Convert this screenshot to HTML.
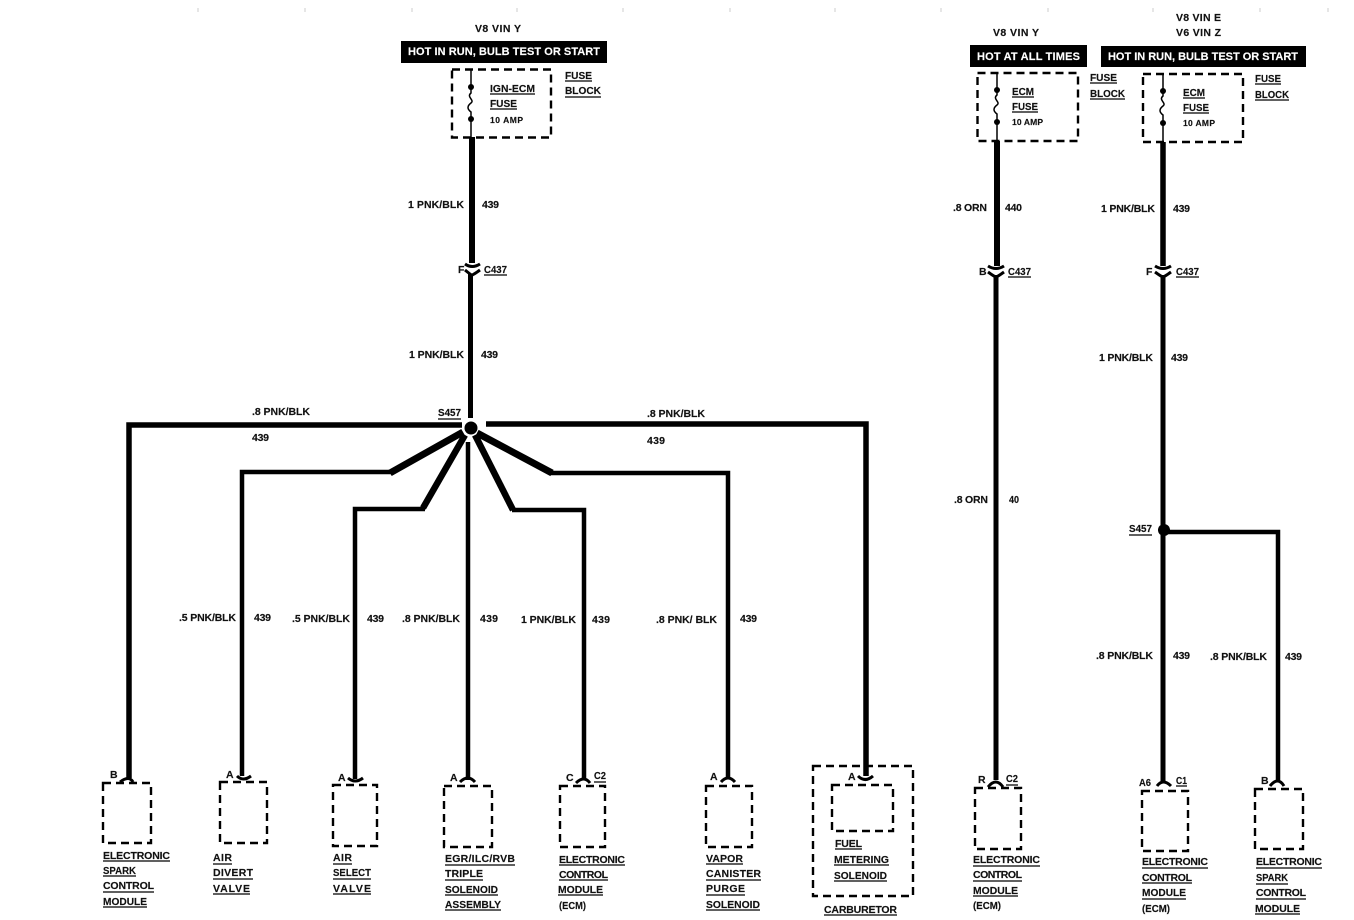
<!DOCTYPE html>
<html><head><meta charset="utf-8">
<style>
html,body{margin:0;padding:0;background:#fff;width:1354px;height:920px;overflow:hidden}
svg{display:block}
text{font-family:"Liberation Sans",sans-serif;font-weight:bold;font-size:10.5px;fill:#111;stroke:#111;stroke-width:.15px}
.w{fill:#fff;stroke:#fff;font-size:11px}
.s{font-size:8.5px}
</style></head><body>
<svg width="1354" height="920" viewBox="0 0 1354 920" xmlns="http://www.w3.org/2000/svg">
<!-- ticks -->
<path d="M198 8v4M305 8v4M412 8v4M517 8v4M623 8v4M730 8v4M835 8v4M941 8v4M1048 8v4M1153 8v4M1260 8v4M1328 8v4" stroke="#ccc" stroke-width="1"/>

<!-- bars -->
<rect x="401" y="41" width="206" height="22" fill="#000"/>
<rect x="970" y="45" width="117" height="22" fill="#000"/>
<rect x="1101" y="46" width="205" height="21" fill="#000"/>

<!-- dashed boxes -->
<g fill="none" stroke="#000" stroke-width="2.4" stroke-dasharray="8 5">
<rect x="452" y="69.500" width="99" height="68"/>
<rect x="977.500" y="73" width="100.500" height="68"/>
<rect x="1143" y="74" width="100" height="68"/>
<rect x="103" y="783" width="48" height="60"/>
<rect x="220" y="782" width="47" height="61"/>
<rect x="333" y="785" width="44" height="61"/>
<rect x="444" y="786" width="48" height="61"/>
<rect x="560" y="786" width="45" height="61"/>
<rect x="706" y="786" width="46" height="61"/>
<rect x="813" y="766" width="100" height="130"/>
<rect x="832" y="785" width="61" height="46"/>
<rect x="975" y="788" width="46" height="61"/>
<rect x="1142" y="791" width="46" height="60"/>
<rect x="1255" y="789" width="48" height="60"/>
</g>

<!-- fuse symbols -->
<g fill="none" stroke="#000" stroke-width="1.500">
<path d="M471 69V93c-5 4 4 7 0 10s-4 6 0 9V137"/>
<path d="M997 73V95c-5 4 4 7 0 10s-4 6 0 9V141"/>
<path d="M1163 74V96c-5 4 4 7 0 10s-4 6 0 9V142"/>
</g>
<g fill="#000">
<circle cx="471" cy="87" r="3"/><circle cx="471" cy="119" r="3"/>
<circle cx="997" cy="90" r="3"/><circle cx="997" cy="122" r="3"/>
<circle cx="1163" cy="91" r="3"/><circle cx="1163" cy="123" r="3"/>
<circle cx="471" cy="428" r="6.500"/>
<circle cx="1164" cy="530" r="6"/>
</g>

<!-- wires -->
<g fill="none" stroke="#000" stroke-linejoin="miter">
<path d="M472 137V263" stroke-width="6"/>
<path d="M470.500 274V418" stroke-width="5"/>
<path d="M997 141V266" stroke-width="6"/>
<path d="M996 275V780" stroke-width="5"/>
<path d="M1163 142V266" stroke-width="5.500"/>
<path d="M1163 275V525M1163 535V782" stroke-width="5"/>
<path d="M1168 532H1278V781" stroke-width="4.500"/>
<path d="M462 425H129V778" stroke-width="5.500"/>
<path d="M486 424H866V776" stroke-width="5.500"/>
<path d="M463 432L390 473" stroke-width="7"/>
<path d="M392 472H242V776" stroke-width="4.500"/>
<path d="M465 435L423 508" stroke-width="6.500"/>
<path d="M425 509H355V779" stroke-width="4.500"/>
<path d="M468 442V780" stroke-width="4.500"/>
<path d="M475 435L513 510" stroke-width="6.500"/>
<path d="M512 510H584V779" stroke-width="4.500"/>
<path d="M477 433L552 473" stroke-width="7"/>
<path d="M550 473H728V779" stroke-width="4.500"/>
</g>

<!-- connectors -->
<g fill="none" stroke="#000" stroke-width="3">
<path d="M465 264q7 5 15 0M465 270q6 5 7 5t8-5"/>
<path d="M988 266q8 5 16 0M988 272q7 5 8 5t8-5"/>
<path d="M1155 266q8 5 16 0M1155 272q7 5 8 5t8-5"/>
<path d="M120 782q9-7 13 0"/>
<path d="M237 776q6 6 14 0"/>
<path d="M348 778q7 6 15 0"/>
<path d="M858 776q7 7 15 0"/>
<path d="M460 782q8-8 15 0"/>
<path d="M576 783q8-8 14 0"/>
<path d="M721 782q7-8 14 0"/>
<path d="M988 787q8-10 15 0"/>
<path d="M1157 786q6-8 14 0"/>
<path d="M1270 786q8-10 14 0"/>
</g>

<!-- underlines -->
<g fill="none" stroke="#000" stroke-width="1.300">
<path d="M565 81h27M565 97h36M490 94h45M490 109h27M484 275h23M438 419h23"/>
<path d="M1090 83h27M1090 99h35M1012 97h22M1012 112h26M1008 277h23"/>
<path d="M1255 84h26M1255 100h34M1183 98h22M1183 113h26M1176 277h23M1129 535h23"/>
<path d="M103 861h67M103 876h33M103 892h51M103 907h44"/>
<path d="M213 864h19M213 879h40M213 894h37"/>
<path d="M333 864h19M333 879h38M333 894h38"/>
<path d="M445 865h70M445 880h38M445 895h53M445 910h56"/>
<path d="M594 782h12M559 865h66M559 880h49M558 895h45"/>
<path d="M706 864h37M706 880h55M706 895h39M706 910h54"/>
<path d="M835 849h27M834 865h55M834 881h53M824 915h73"/>
<path d="M1006 785h12M973 866h67M973 881h49M973 896h45"/>
<path d="M1176 786h11M1142 868h66M1142 883h50M1142 899h44"/>
<path d="M1256 868h66M1256 884h32M1256 899h50M1255 914h45"/>
</g>

<!-- header text -->
<text x="475" y="32" textLength="46">V8 VIN Y</text>
<text class="w" x="408" y="55" textLength="192">HOT IN RUN, BULB TEST OR START</text>
<text x="993" y="36" textLength="46">V8 VIN Y</text>
<text x="1176" y="21" textLength="45">V8 VIN E</text>
<text x="1176" y="36" textLength="45">V6 VIN Z</text>
<text class="w" x="977" y="60" textLength="103">HOT AT ALL TIMES</text>
<text class="w" x="1108" y="60" textLength="190">HOT IN RUN, BULB TEST OR START</text>

<!-- fuse text -->
<text x="565" y="79" textLength="27" lengthAdjust="spacingAndGlyphs">FUSE</text>
<text x="565" y="94" textLength="36" lengthAdjust="spacingAndGlyphs">BLOCK</text>
<text x="490" y="92" textLength="45" lengthAdjust="spacingAndGlyphs">IGN-ECM</text>
<text x="490" y="107" textLength="27" lengthAdjust="spacingAndGlyphs">FUSE</text>
<text class="s" x="490" y="123" textLength="33">10 AMP</text>
<text x="1090" y="81" textLength="27" lengthAdjust="spacingAndGlyphs">FUSE</text>
<text x="1090" y="97" textLength="35" lengthAdjust="spacingAndGlyphs">BLOCK</text>
<text x="1012" y="95" textLength="22" lengthAdjust="spacingAndGlyphs">ECM</text>
<text x="1012" y="110" textLength="26" lengthAdjust="spacingAndGlyphs">FUSE</text>
<text class="s" x="1012" y="125" textLength="31">10 AMP</text>
<text x="1255" y="82" textLength="26" lengthAdjust="spacingAndGlyphs">FUSE</text>
<text x="1255" y="98" textLength="34" lengthAdjust="spacingAndGlyphs">BLOCK</text>
<text x="1183" y="96" textLength="22" lengthAdjust="spacingAndGlyphs">ECM</text>
<text x="1183" y="111" textLength="26" lengthAdjust="spacingAndGlyphs">FUSE</text>
<text class="s" x="1183" y="126" textLength="32">10 AMP</text>

<!-- wire labels -->
<text x="408" y="208" textLength="56">1 PNK/BLK</text>
<text x="482" y="208" textLength="17">439</text>
<text x="458" y="273">F</text>
<text x="484" y="273" textLength="23" lengthAdjust="spacingAndGlyphs">C437</text>
<text x="409" y="358" textLength="55">1 PNK/BLK</text>
<text x="481" y="358" textLength="17">439</text>
<text x="438" y="416" textLength="23" lengthAdjust="spacingAndGlyphs">S457</text>
<text x="252" y="415" textLength="58">.8 PNK/BLK</text>
<text x="252" y="441" textLength="17">439</text>
<text x="647" y="417" textLength="58">.8 PNK/BLK</text>
<text x="647" y="444" textLength="18">439</text>
<text x="179" y="621" textLength="57">.5 PNK/BLK</text>
<text x="254" y="621" textLength="17">439</text>
<text x="292" y="622" textLength="58">.5 PNK/BLK</text>
<text x="367" y="622" textLength="17">439</text>
<text x="402" y="622" textLength="58">.8 PNK/BLK</text>
<text x="480" y="622" textLength="18">439</text>
<text x="521" y="623" textLength="55">1 PNK/BLK</text>
<text x="592" y="623" textLength="18">439</text>
<text x="656" y="623" textLength="61">.8 PNK/ BLK</text>
<text x="740" y="622" textLength="17">439</text>

<text x="953" y="211" textLength="34">.8 ORN</text>
<text x="1005" y="211" textLength="17">440</text>
<text x="979" y="275">B</text>
<text x="1008" y="275" textLength="23" lengthAdjust="spacingAndGlyphs">C437</text>
<text x="954" y="503" textLength="34">.8 ORN</text>
<text x="1009" y="503" textLength="10" lengthAdjust="spacingAndGlyphs">40</text>

<text x="1101" y="212" textLength="54">1 PNK/BLK</text>
<text x="1173" y="212" textLength="17">439</text>
<text x="1146" y="275">F</text>
<text x="1176" y="275" textLength="23" lengthAdjust="spacingAndGlyphs">C437</text>
<text x="1099" y="361" textLength="54">1 PNK/BLK</text>
<text x="1171" y="361" textLength="17">439</text>
<text x="1129" y="532" textLength="23" lengthAdjust="spacingAndGlyphs">S457</text>
<text x="1096" y="659" textLength="57">.8 PNK/BLK</text>
<text x="1173" y="659" textLength="17">439</text>
<text x="1210" y="660" textLength="57">.8 PNK/BLK</text>
<text x="1285" y="660" textLength="17">439</text>

<!-- component labels -->
<text x="110" y="778">B</text>
<text x="103" y="859" textLength="67">ELECTRONIC</text>
<text x="103" y="874" textLength="33" lengthAdjust="spacingAndGlyphs">SPARK</text>
<text x="103" y="889" textLength="51">CONTROL</text>
<text x="103" y="905" textLength="44" lengthAdjust="spacingAndGlyphs">MODULE</text>

<text x="226" y="778">A</text>
<text x="213" y="861" textLength="19">AIR</text>
<text x="213" y="876" textLength="40">DIVERT</text>
<text x="213" y="892" textLength="37">VALVE</text>

<text x="338" y="781">A</text>
<text x="333" y="861" textLength="19">AIR</text>
<text x="333" y="876" textLength="38" lengthAdjust="spacingAndGlyphs">SELECT</text>
<text x="333" y="892" textLength="38">VALVE</text>

<text x="450" y="781">A</text>
<text x="445" y="862" textLength="70">EGR/ILC/RVB</text>
<text x="445" y="877" textLength="38">TRIPLE</text>
<text x="445" y="893" textLength="53" lengthAdjust="spacingAndGlyphs">SOLENOID</text>
<text x="445" y="908" textLength="56" lengthAdjust="spacingAndGlyphs">ASSEMBLY</text>

<text x="566" y="781">C</text>
<text x="594" y="779" textLength="12" lengthAdjust="spacingAndGlyphs">C2</text>
<text x="559" y="863" textLength="66">ELECTRONIC</text>
<text x="559" y="878" textLength="49">CONTROL</text>
<text x="558" y="893" textLength="45" lengthAdjust="spacingAndGlyphs">MODULE</text>
<text x="559" y="909" textLength="27" lengthAdjust="spacingAndGlyphs">(ECM)</text>

<text x="710" y="780">A</text>
<text x="706" y="862" textLength="37">VAPOR</text>
<text x="706" y="877" textLength="55">CANISTER</text>
<text x="706" y="892" textLength="39">PURGE</text>
<text x="706" y="908" textLength="54" lengthAdjust="spacingAndGlyphs">SOLENOID</text>

<text x="848" y="780">A</text>
<text x="835" y="847" textLength="27">FUEL</text>
<text x="834" y="863" textLength="55" lengthAdjust="spacingAndGlyphs">METERING</text>
<text x="834" y="879" textLength="53" lengthAdjust="spacingAndGlyphs">SOLENOID</text>
<text x="824" y="913" textLength="73">CARBURETOR</text>

<text x="978" y="783">R</text>
<text x="1006" y="782" textLength="12" lengthAdjust="spacingAndGlyphs">C2</text>
<text x="973" y="863" textLength="67">ELECTRONIC</text>
<text x="973" y="878" textLength="49">CONTROL</text>
<text x="973" y="894" textLength="45" lengthAdjust="spacingAndGlyphs">MODULE</text>
<text x="973" y="909" textLength="28" lengthAdjust="spacingAndGlyphs">(ECM)</text>

<text x="1139" y="786" textLength="12" lengthAdjust="spacingAndGlyphs">A6</text>
<text x="1176" y="784" textLength="11" lengthAdjust="spacingAndGlyphs">C1</text>
<text x="1142" y="865" textLength="66">ELECTRONIC</text>
<text x="1142" y="881" textLength="50">CONTROL</text>
<text x="1142" y="896" textLength="44" lengthAdjust="spacingAndGlyphs">MODULE</text>
<text x="1142" y="912" textLength="28" lengthAdjust="spacingAndGlyphs">(ECM)</text>

<text x="1261" y="784">B</text>
<text x="1256" y="865" textLength="66">ELECTRONIC</text>
<text x="1256" y="881" textLength="32" lengthAdjust="spacingAndGlyphs">SPARK</text>
<text x="1256" y="896" textLength="50">CONTROL</text>
<text x="1255" y="912" textLength="45" lengthAdjust="spacingAndGlyphs">MODULE</text>
</svg>
</body></html>
